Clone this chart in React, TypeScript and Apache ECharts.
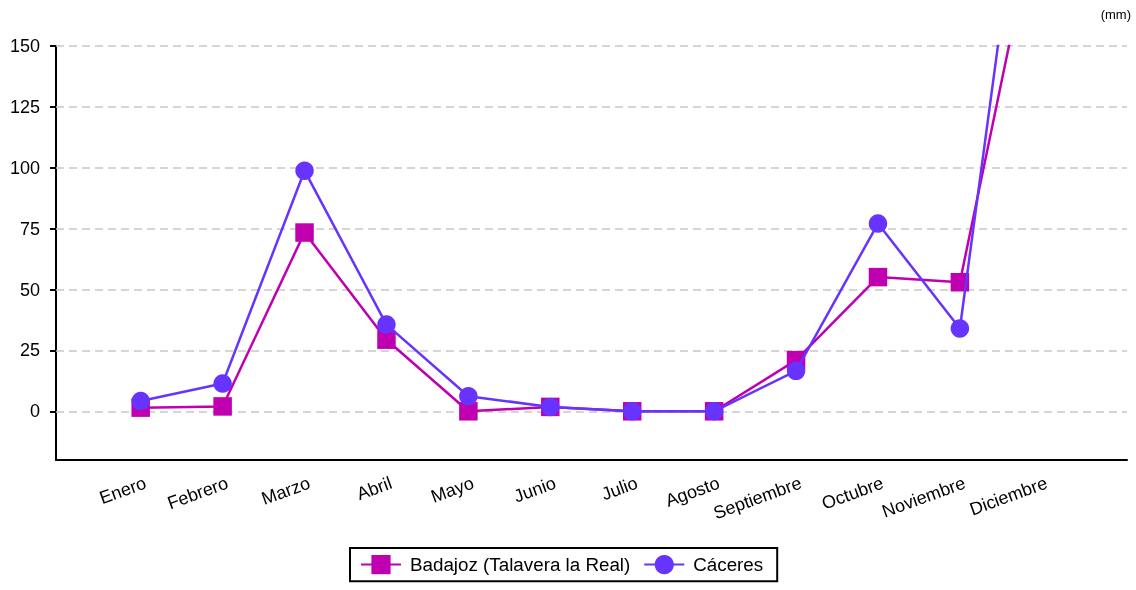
import React, { useEffect, useRef } from "react";
import * as echarts from "echarts";

const months = [
  "Enero", "Febrero", "Marzo", "Abril", "Mayo", "Junio",
  "Julio", "Agosto", "Septiembre", "Octubre", "Noviembre", "Diciembre",
];
const badajoz = [1.5, 2.0, 73.4, 29.4, 0, 1.8, 0, 0, 21, 55.1, 53, 215];
const caceres = [4.2, 11.4, 98.8, 35.6, 6.2, 1.8, 0, 0, 16.6, 77.1, 34, 284];
const yTicks = [0, 25, 50, 75, 100, 125, 150];
const seriesNames = ["Badajoz (Talavera la Real)", "Cáceres"];
const colors = ["#c000b0", "#6633ff"];

const FONT = "'Liberation Sans', Arial, Helvetica, sans-serif";

export default function App() {
  const ref = useRef<HTMLDivElement>(null);
  useEffect(() => {
    if (!ref.current) return;
    const chart = echarts.init(ref.current, undefined, { renderer: "svg" });
    const idx = months.map((_, i) => i);
    const toPairs = (arr: number[]) => arr.map((v, i) => [i, v]);
    chart.setOption({
      animation: false,
      textStyle: { fontFamily: FONT },
      grid: { left: 56, right: 9, top: 46, bottom: 130, containLabel: false },
      graphic: [
        {
          type: "text",
          right: 5,
          top: 8,
          style: { text: "(mm)", fontSize: 13, fill: "#000", fontFamily: FONT },
        },
      ],
      legend: {
        data: seriesNames,
        top: 548,
        left: 350,
        itemWidth: 40,
        itemHeight: 24,
        itemGap: 13,
        padding: [7, 14, 7, 10],
        borderColor: "#000",
        borderWidth: 2,
        borderRadius: 0,
        textStyle: {
          fontSize: 18.8,
          color: "#000",
          fontFamily: FONT,
          padding: [0, 0, 0, 4],
        },
      },
      xAxis: {
        type: "value",
        min: -1.034,
        max: 12.04,
        axisLine: { show: true, onZero: false, lineStyle: { color: "#000", width: 2 } },
        axisTick: { show: false },
        splitLine: { show: false },
        axisLabel: {
          customValues: idx,
          formatter: (v: number) => months[Math.round(v)] ?? "",
          rotate: 20,
          margin: 24,
          padding: [0, -5, 0, 0],
          fontSize: 18,
          color: "#000",
          fontFamily: FONT,
        },
      },
      yAxis: {
        type: "value",
        min: -20,
        max: 150,
        axisLine: { show: true, onZero: false, lineStyle: { color: "#000", width: 2 } },
        axisTick: {
          show: true,
          length: 6,
          lineStyle: { color: "#000", width: 2 },
          customValues: yTicks,
        },
        axisLabel: {
          customValues: yTicks,
          margin: 16,
          fontSize: 18,
          color: "#000",
          fontFamily: FONT,
        },
        splitLine: { show: false },
      },
      series: [
        {
          name: "grid",
          type: "line",
          data: [],
          z: 1,
          silent: true,
          markLine: {
            silent: true,
            z: 1,
            symbol: "none",
            label: { show: false },
            lineStyle: { color: "#c8c8c8", type: [8, 5], width: 1.5 },
            data: yTicks.map((v) => ({ yAxis: v })),
          },
        },
        {
          name: seriesNames[0],
          type: "line",
          data: toPairs(badajoz),
          symbol: "rect",
          symbolSize: 18.5,
          color: colors[0],
          lineStyle: { width: 2.5, color: colors[0] },
          itemStyle: { color: colors[0] },
          z: 3,
        },
        {
          name: seriesNames[1],
          type: "line",
          data: toPairs(caceres),
          symbol: "circle",
          symbolSize: 18.5,
          color: colors[1],
          lineStyle: { width: 2.5, color: colors[1] },
          itemStyle: { color: colors[1] },
          z: 4,
        },
      ],
    });
    return () => chart.dispose();
  }, []);
  return (
    <div
      ref={ref}
      style={{ position: "fixed", left: 0, top: 0, width: 1136, height: 590 }}
    />
  );
}
